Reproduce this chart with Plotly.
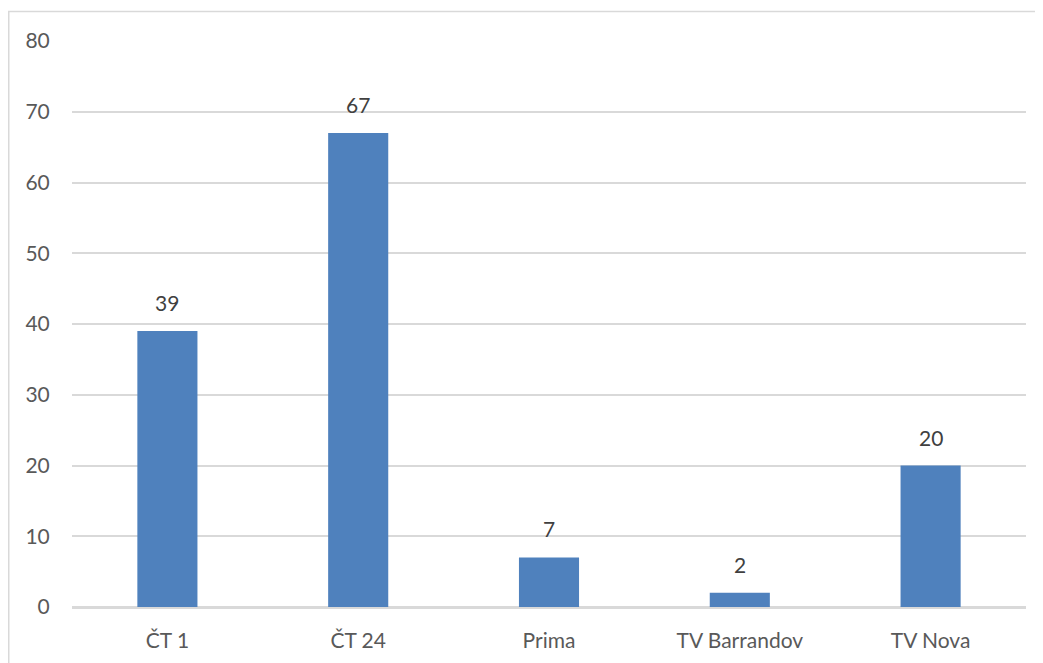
import plotly.graph_objects as go

categories = ["ČT 1", "ČT 24", "Prima", "TV Barrandov", "TV Nova"]
values = [39, 67, 7, 2, 20]
y_ticks = [0, 10, 20, 30, 40, 50, 60, 70, 80]

FONT = "Lato, 'Open Sans', sans-serif"

fig = go.Figure()
fig.add_trace(go.Bar(
    x=categories,
    y=values,
    marker=dict(color="#4F81BD", line=dict(width=0)),
    width=0.315,
    hoverinfo="x+y",
))

for c, v in zip(categories, values):
    fig.add_annotation(
        x=c, y=v, text=str(v), showarrow=False,
        yanchor="bottom", yshift=14,
        font=dict(family=FONT, size=21, color="#404040"),
    )

W, H = 1043, 663
L, R, T, B = 64, 25, 33, 64
pw, ph = W - L - R, H - T - B

fig.update_layout(
    width=W, height=H,
    margin=dict(l=L, r=R, t=T, b=B, pad=0),
    paper_bgcolor="white",
    plot_bgcolor="white",
    showlegend=False,
    font=dict(family=FONT, size=21, color="#595959"),
    xaxis=dict(
        showgrid=False,
        showline=True,
        linecolor="#D9D9D9",
        linewidth=1.5,
        ticks="outside",
        ticklen=14,
        tickcolor="rgba(0,0,0,0)",
        tickfont=dict(family=FONT, size=21, color="#595959"),
    ),
    yaxis=dict(
        range=[0, 80],
        tickvals=y_ticks,
        showgrid=True,
        gridcolor="#D9D9D9",
        gridwidth=1.5,
        zeroline=True,
        zerolinecolor="#D9D9D9",
        zerolinewidth=1.5,
        ticks="outside",
        ticklen=17,
        tickcolor="rgba(0,0,0,0)",
        tickfont=dict(family=FONT, size=21, color="#595959"),
    ),
    shapes=[dict(
        type="rect", xref="paper", yref="paper",
        x0=(0.75 - L) / pw, x1=(W + 20 - L) / pw,
        y0=-(B + 20) / ph, y1=(H - B - 3.5) / ph,
        line=dict(color="#D9D9D9", width=1.5),
        fillcolor="rgba(0,0,0,0)",
        layer="below",
    )],
)

fig.write_html("out.html")
